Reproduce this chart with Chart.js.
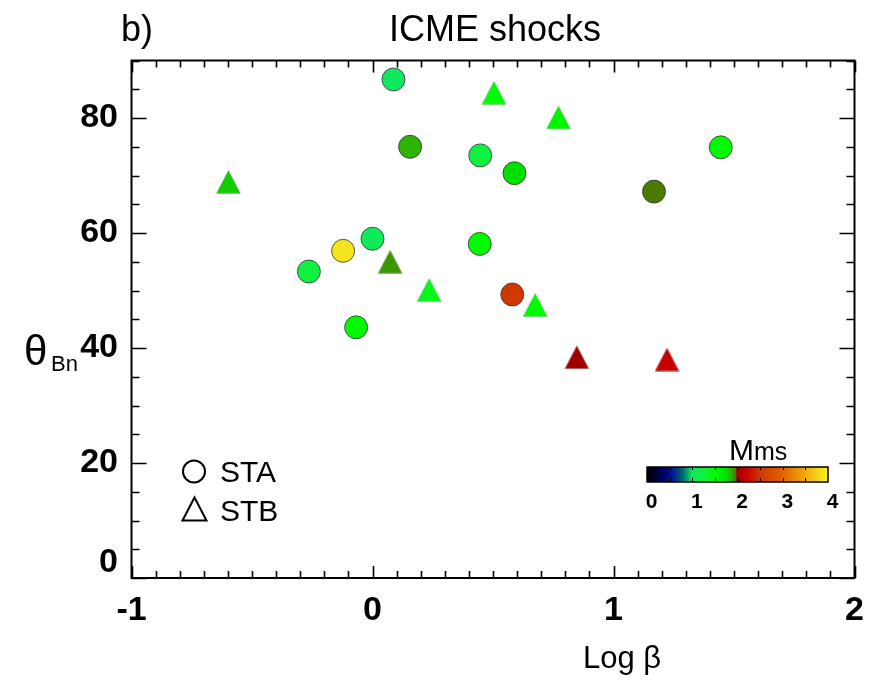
<!DOCTYPE html>
<html><head><meta charset="utf-8">
<script src="https://cdn.jsdelivr.net/npm/chart.js@4"></script>
<style>html,body{margin:0;padding:0;background:#fff}#wrap{width:878px;height:688px;position:relative}</style>
</head><body><div id="wrap"><canvas id="c" width="878" height="688"></canvas></div>
<script>
// ---- data ----
const staLogBeta = [0.087, 0.156, 0.447, 0.589, 1.445, 1.168, 0.000, -0.122, -0.264, 0.445, 0.580, -0.068];
const staTheta   = [86.7, 75.0, 73.5, 70.4, 74.9, 67.2, 59.0, 56.9, 53.3, 58.1, 49.3, 43.6];
const staMms     = [1.0, 1.85, 1.25, 1.75, 1.5, 1.97, 1.05, 3.9, 1.25, 1.5, 2.5, 1.5];
const stbLogBeta = [0.504, 0.772, -0.598, 0.073, 0.235, 0.675, 0.848, 1.222];
const stbTheta   = [84.4, 80.1, 68.9, 55.0, 50.1, 47.5, 38.4, 38.0];
const stbMms     = [1.5, 1.55, 1.79, 1.91, 1.4, 1.5, 1.98, 2.2];
const xTicks = [-1, 0, 1, 2];
const xTickLabels = ['-1', '0', '1', '2'];
const yTicks = [0, 20, 40, 60, 80];
const yTickLabels = ['0', '20', '40', '60', '80'];
const cbTicks = [0, 1, 2, 3, 4];
const cbTickLabels = ['0', '1', '2', '3', '4'];
const seriesNames = ['STA', 'STB'];

// ---- colour table (Mms) ----
const cmap = [
  [0, [0,0,0]], [0.35, [0,0,90]], [0.55, [0,20,150]], [0.8, [0,110,110]],
  [1.0, [16,232,96]], [1.25, [16,240,64]], [1.5, [0,250,0]], [1.75, [0,224,0]],
  [1.85, [45,180,0]], [1.97, [74,122,0]], [1.98, [160,0,0]], [2.2, [200,0,0]],
  [2.5, [208,56,0]], [3.0, [224,100,0]], [3.5, [240,170,16]], [4.0, [248,244,32]]
];
function colorOf(v) {
  if (v <= cmap[0][0]) return 'rgb(' + cmap[0][1].join(',') + ')';
  for (let i = 1; i < cmap.length; i++) {
    if (v <= cmap[i][0]) {
      const [a, ca] = cmap[i-1], [b, cb] = cmap[i];
      const t = (v - a) / (b - a);
      const c = ca.map((x, k) => Math.round(x + (cb[k] - x) * t));
      return 'rgb(' + c.join(',') + ')';
    }
  }
  return 'rgb(' + cmap[cmap.length-1][1].join(',') + ')';
}
const triCache = {};
function triangleImage(color) {
  if (triCache[color]) return triCache[color];
  const c = document.createElement('canvas');
  c.width = 25; c.height = 24;
  const g = c.getContext('2d');
  g.beginPath();
  g.moveTo(0.5, 23.5); g.lineTo(12.5, 0.5); g.lineTo(24.5, 23.5); g.closePath();
  g.fillStyle = color; g.fill();
  g.strokeStyle = 'rgba(120,120,120,0.35)'; g.lineWidth = 0.8; g.stroke();
  triCache[color] = c;
  return c;
}

const FONT = '"Liberation Sans", Arial, sans-serif';

const decor = {
  id: 'decor',
  beforeDatasetsDraw(chart) {
    const { ctx, chartArea: a, scales: { x, y } } = chart;
    ctx.save();
    ctx.strokeStyle = '#000';
    ctx.lineWidth = 2;
    ctx.strokeRect(a.left, a.top, a.right - a.left, a.bottom - a.top);
    ctx.lineWidth = 1.6;
    for (let i = 0; i <= 30; i++) {
      const v = -1 + i * 0.1;
      const px = Math.round(x.getPixelForValue(v)) + 0.5;
      const major = i % 10 === 0;
      const len = major ? 12 : 7;
      ctx.beginPath();
      ctx.moveTo(px, a.bottom); ctx.lineTo(px, a.bottom - len);
      ctx.moveTo(px, a.top); ctx.lineTo(px, a.top + len);
      ctx.stroke();
    }
    for (let i = 0; i <= 18; i++) {
      const v = i * 5;
      const py = Math.round(y.getPixelForValue(v)) + 0.5;
      const major = i % 4 === 0;
      const len = major ? 15 : 8;
      ctx.beginPath();
      ctx.moveTo(a.left, py); ctx.lineTo(a.left + len, py);
      ctx.moveTo(a.right, py); ctx.lineTo(a.right - len, py);
      ctx.stroke();
    }
    ctx.restore();
  },
  afterDraw(chart) {
    const { ctx, chartArea: a, scales: { x, y } } = chart;
    ctx.save();
    ctx.fillStyle = '#000';
    ctx.font = 'bold 34px ' + FONT;
    ctx.textAlign = 'right'; ctx.textBaseline = 'middle';
    yTicks.forEach((v, i) => {
      let py = y.getPixelForValue(v);
      if (v === 0) py = a.bottom - 15;
      ctx.fillText(yTickLabels[i], 118, py);
    });
    ctx.textAlign = 'center';
    xTicks.forEach((v, i) => {
      ctx.fillText(xTickLabels[i], x.getPixelForValue(v), 611);
    });
    ctx.font = '36px ' + FONT;
    ctx.textAlign = 'center';
    ctx.fillText('ICME shocks', 495, 31);
    ctx.textAlign = 'left';
    ctx.fillText('b)', 121, 31);
    ctx.textBaseline = 'alphabetic';
    ctx.font = '31px ' + FONT;
    ctx.fillText('Log \u03b2', 583, 668);
    ctx.font = '42px ' + FONT;
    ctx.fillText('\u03b8', 24, 365);
    ctx.font = '22px ' + FONT;
    ctx.fillText('Bn', 51, 371);
    ctx.lineWidth = 2;
    ctx.strokeStyle = '#000';
    ctx.beginPath(); ctx.arc(194, 471.5, 11, 0, Math.PI * 2); ctx.stroke();
    ctx.beginPath();
    ctx.moveTo(182.5, 520.5); ctx.lineTo(194.5, 497.5); ctx.lineTo(206.5, 520.5); ctx.closePath(); ctx.stroke();
    ctx.font = '30px ' + FONT;
    ctx.fillText(seriesNames[0], 220, 482);
    ctx.fillText(seriesNames[1], 220, 521);
    const cbL = 647, cbR = 828, cbT = 467, cbB = 482;
    const grad = ctx.createLinearGradient(cbL, 0, cbR, 0);
    cmap.forEach(([v, c]) => grad.addColorStop(v / 4, 'rgb(' + c.join(',') + ')'));
    ctx.fillStyle = grad;
    ctx.fillRect(cbL, cbT, cbR - cbL, cbB - cbT);
    ctx.lineWidth = 1.5; ctx.strokeStyle = '#000';
    ctx.strokeRect(cbL, cbT, cbR - cbL, cbB - cbT);
    ctx.lineWidth = 1;
    for (let i = 1; i < 8; i++) {
      const px = Math.round(cbL + (cbR - cbL) * i / 8) + 0.5;
      ctx.beginPath();
      ctx.moveTo(px, cbB); ctx.lineTo(px, cbB - 4);
      ctx.moveTo(px, cbT); ctx.lineTo(px, cbT + 3);
      ctx.stroke();
    }
    ctx.fillStyle = '#000';
    ctx.font = 'bold 21px ' + FONT;
    ctx.textAlign = 'center'; ctx.textBaseline = 'middle';
    cbTicks.forEach((v, i) => {
      ctx.fillText(cbTickLabels[i], cbL + (cbR - cbL) * v / 4 + 4.5, 502);
    });
    ctx.textAlign = 'left'; ctx.textBaseline = 'alphabetic';
    ctx.font = '30px ' + FONT;
    ctx.fillText('M', 729, 460);
    ctx.font = '25px ' + FONT;
    ctx.fillText('ms', 754, 460);
    ctx.restore();
  }
};

const staColors = staMms.map(colorOf);
const stbColors = stbMms.map(colorOf);

new Chart(document.getElementById('c'), {
  type: 'scatter',
  data: {
    datasets: [
      {
        label: seriesNames[0],
        data: staLogBeta.map((v, i) => ({ x: v, y: staTheta[i] })),
        pointStyle: 'circle',
        pointRadius: 11.5,
        pointBackgroundColor: staColors,
        pointBorderColor: 'rgba(60,60,60,0.85)',
        pointBorderWidth: 1,
        clip: false
      },
      {
        label: seriesNames[1],
        data: stbLogBeta.map((v, i) => ({ x: v, y: stbTheta[i] })),
        pointStyle: ctx => triangleImage(stbColors[ctx.dataIndex]),
        pointRadius: 12,
        pointBackgroundColor: stbColors,
        clip: false
      }
    ]
  },
  options: {
    responsive: false,
    animation: false,
    devicePixelRatio: 1,
    layout: { padding: { left: 131.5, right: 23.5, top: 60.5, bottom: 110 } },
    plugins: { legend: { display: false }, tooltip: { enabled: false }, title: { display: false } },
    scales: {
      x: { type: 'linear', min: -1, max: 2, display: false },
      y: { type: 'linear', min: 0, max: 90, display: false }
    }
  },
  plugins: [decor]
});
</script>
</body></html>
